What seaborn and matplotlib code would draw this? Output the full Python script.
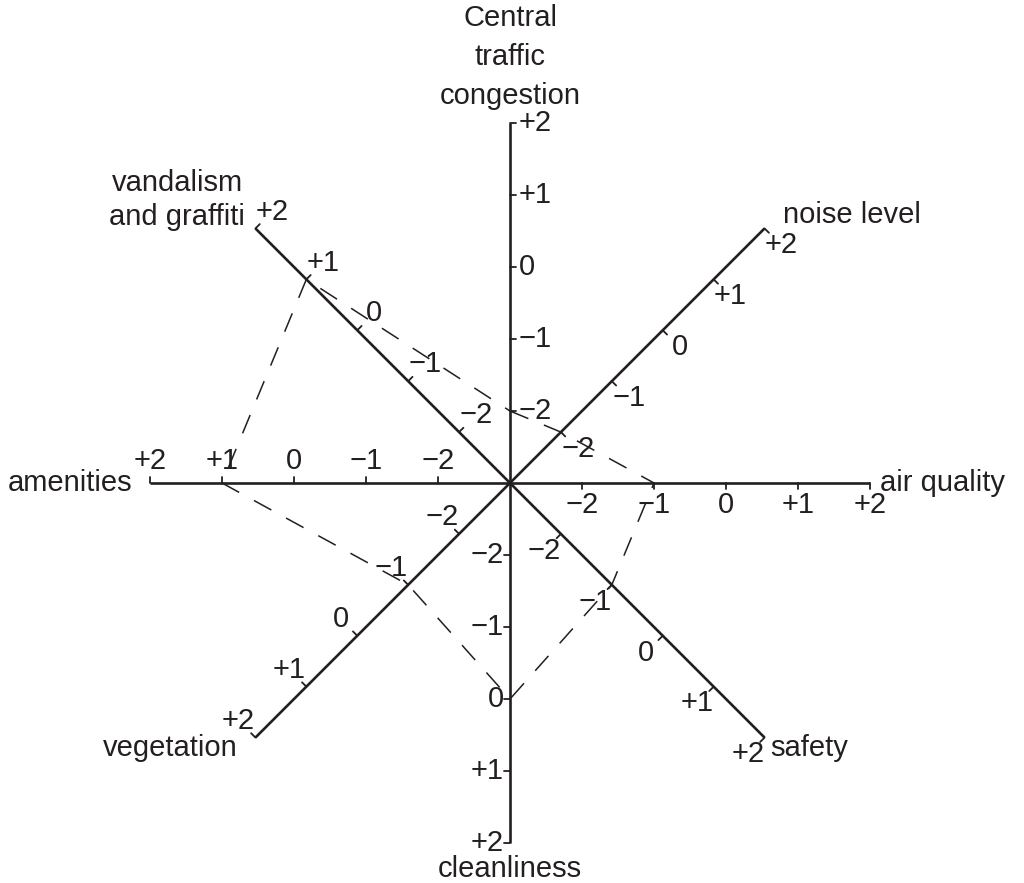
import numpy as np
import pandas as pd
import matplotlib
matplotlib.use('Agg')
from matplotlib import pyplot as plt
import seaborn as sns

# spokes, clockwise from the top
categories = ['Central\ntraffic\ncongestion', 'noise level', 'air quality', 'safety',
              'cleanliness', 'vegetation', 'amenities', 'vandalism\nand graffiti']
scores = [-2, -2, -1, -1, 0, -1, 1, 1]
tick_values = [-2, -1, 0, 1, 2]
tick_labels = ['\u22122', '\u22121', '0', '+1', '+2']

sns.set_style('white')
plt.rcParams['font.family'] = ['Liberation Sans', 'DejaVu Sans']
ink = '#231f20'
fs = 21

fig = plt.figure(figsize=(10.24, 8.83), dpi=100)
ax = fig.add_axes([0, 0, 1, 1])
ax.set_xlim(-510 / 72, (1024 - 510) / 72)
ax.set_ylim(-(883 - 483) / 72, 483 / 72)
ax.set_aspect('equal')
ax.axis('off')

def radius(v):
    # centre of the chart sits at -3 on every scale
    return np.asarray(v, dtype=float) + 3

n = len(categories)
angles = np.deg2rad(90 - 45 * np.arange(n))

for i in range(n):
    a = angles[i]
    d = np.array([np.cos(a), np.sin(a)])
    p = np.array([np.cos(a - np.pi / 2), np.sin(a - np.pi / 2)])  # label side
    end = radius(2) * d
    ax.plot([0, end[0]], [0, end[1]], color=ink, lw=1.9, solid_capstyle='butt', zorder=3)
    for v, lab in zip(tick_values, tick_labels):
        base = radius(v) * d
        tip = base + 0.085 * p
        ax.plot([base[0], tip[0]], [base[1], tip[1]], color=ink, lw=1.3, zorder=3)
        if i == 0:
            ax.text(base[0] + 0.12, base[1], lab, ha='left', va='center', fontsize=fs, color=ink)
        elif i == 4:
            ax.text(base[0] - 0.09, base[1], lab, ha='right', va='center', fontsize=fs, color=ink)
        elif i in (2, 6):
            q = base + 0.3 * p
            ax.text(q[0], q[1], lab, ha='center', va='center', fontsize=fs, color=ink)
        else:
            q = base + 0.33 * p
            ax.text(q[0], q[1], lab, ha='center', va='center', fontsize=fs, color=ink)

# spoke names
ax.text(0, 5.91, categories[0], ha='center', va='center', fontsize=fs, color=ink, linespacing=1.5)
ax.text(3.79, 3.72, categories[1], ha='left', va='center', fontsize=fs, color=ink)
ax.text(5.14, 0.0, categories[2], ha='left', va='center', fontsize=fs, color=ink)
ax.text(3.61, -3.68, categories[3], ha='left', va='center', fontsize=fs, color=ink)
ax.text(0, -5.47, categories[4], ha='center', va='baseline', fontsize=fs, color=ink)
ax.text(-3.78, -3.68, categories[5], ha='right', va='center', fontsize=fs, color=ink)
ax.text(-5.24, 0.0, categories[6], ha='right', va='center', fontsize=fs, color=ink)
ax.text(-4.62, 3.93, categories[7], ha='center', va='center', fontsize=fs, color=ink, linespacing=1.3)

# dashed profile
r = radius(scores)
poly = pd.DataFrame({'x': np.append(r * np.cos(angles), r[0] * np.cos(angles[0])),
                     'y': np.append(r * np.sin(angles), r[0] * np.sin(angles[0]))})
sns.lineplot(data=poly, x='x', y='y', sort=False, estimator=None, color=ink,
             lw=1.1, linestyle=(0, (13, 11)), ax=ax, zorder=2)
ax.set_xlabel('')
ax.set_ylabel('')

fig.savefig('out.png', dpi=100)
